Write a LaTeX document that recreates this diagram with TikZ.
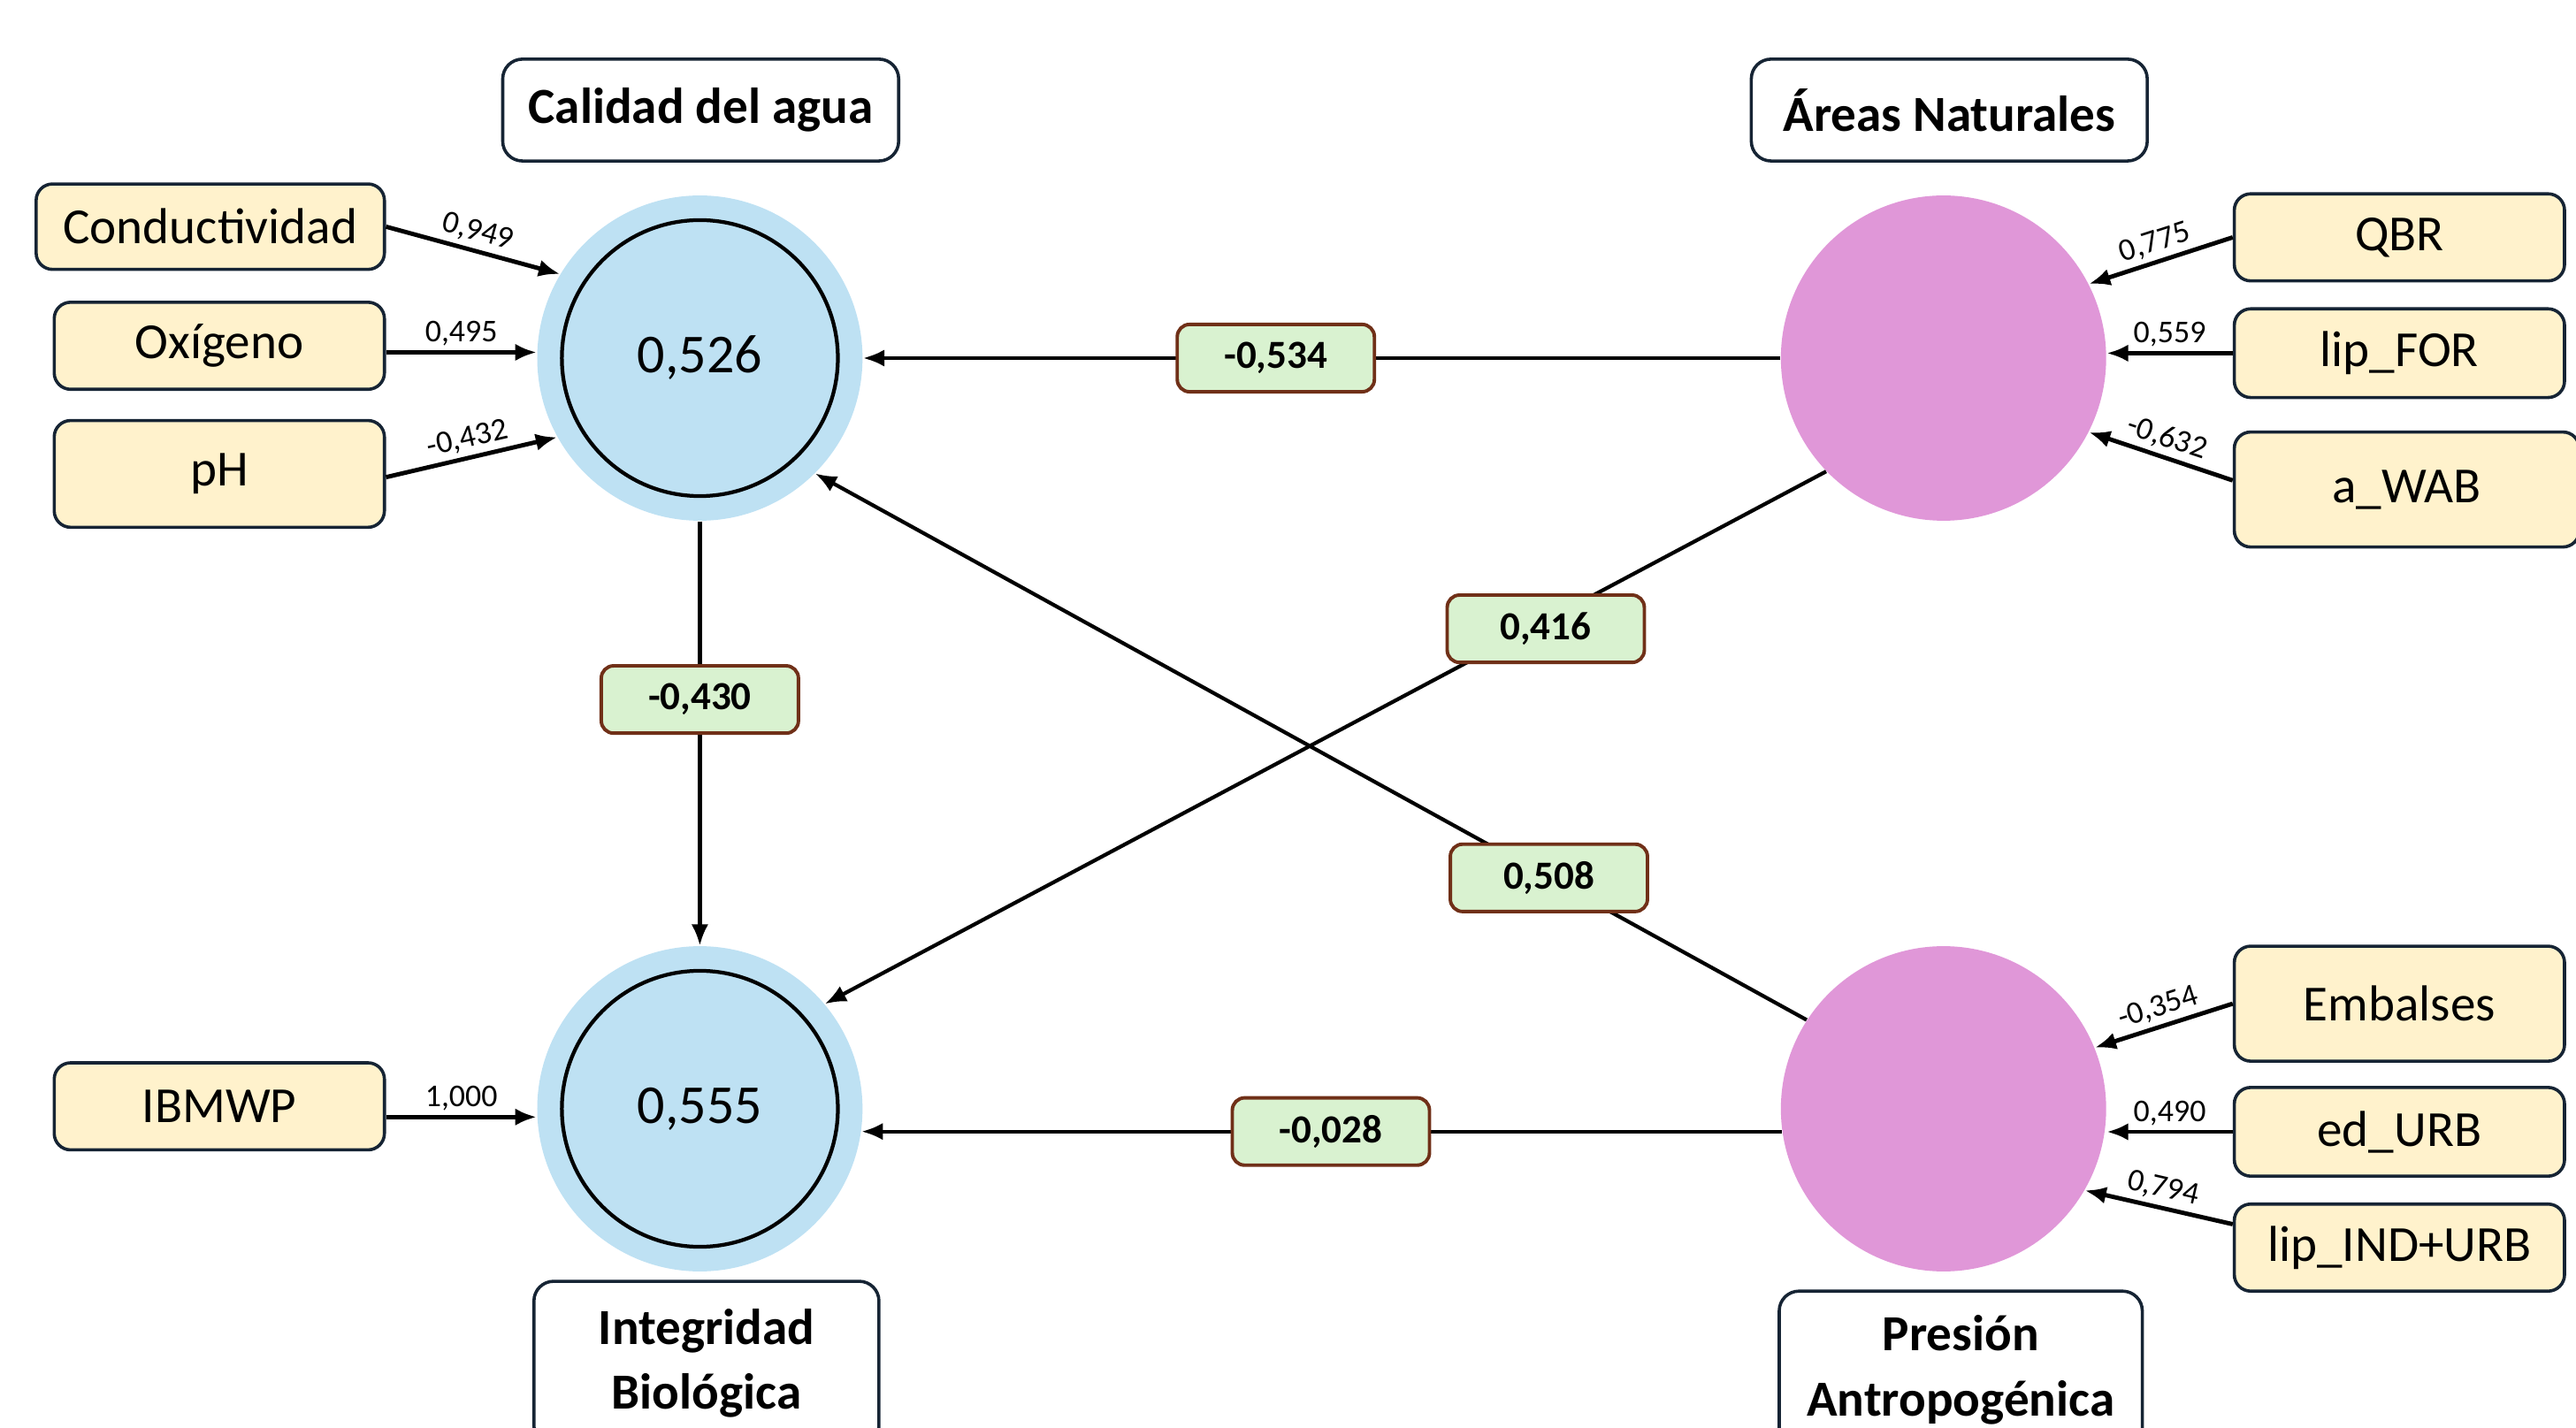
\documentclass[tikz,border=0pt]{standalone}
\usepackage{fontspec}
\setmainfont{Carlito}
\usepackage{xcolor}
\usetikzlibrary{arrows.meta,calc}
\definecolor{azulclaro}{RGB}{190,225,243}
\definecolor{rosa}{RGB}{224,151,216}
\definecolor{crema}{RGB}{255,242,204}
\definecolor{verdeclaro}{RGB}{217,242,208}
\definecolor{marron}{RGB}{112,48,24}
\definecolor{bordeoscuro}{RGB}{22,36,52}
\tikzset{
	indicador/.style={draw=bordeoscuro, fill=crema, rounded corners=2mm, line width=1.1pt,
			minimum width=40.2mm, minimum height=10.6mm, inner sep=0pt,
			font=\fontsize{17.5}{20}\selectfont},
	titulo/.style={draw=bordeoscuro, fill=white, rounded corners=2.4mm, line width=1.1pt,
			inner sep=0pt, align=center, font=\fontsize{17.5}{22.5}\selectfont\bfseries},
	constructo/.style={circle, draw=none, minimum size=39.6mm, inner sep=0pt},
	anillo/.style={circle, draw=black, line width=1.3pt, minimum size=33.6mm, inner sep=0pt,
			font=\fontsize{19}{22}\selectfont},
	coef/.style={draw=marron, fill=verdeclaro, rounded corners=1.5mm, line width=1.2pt,
			minimum width=24mm, minimum height=8.2mm, inner sep=0pt,
			font=\fontsize{13.8}{16}\selectfont\bfseries},
	carga/.style={line width=1.5pt, -{Latex[length=2.6mm,width=2.1mm]}},
	camino/.style={line width=1.3pt, -{Latex[length=2.6mm,width=2.1mm]}},
	peso/.style={above, sloped, inner sep=1.5pt, font=\fontsize{11}{13}\selectfont}
}

\begin{document}
\begin{tikzpicture}[x=0.2mm, y=-0.2mm]
	\useasboundingbox (0,0) rectangle (1568,869);

	% constructos
	\node[constructo, fill=azulclaro] (cal) at (426,218) {};
	\node[anillo] (calin) at (cal) {0,526};
	\node[constructo, fill=azulclaro] (int) at (426,675) {};
	\node[anillo] (intin) at (int) {0,555};
	\node[constructo, fill=rosa] (nat) at (1183,218) {};
	\node[constructo, fill=rosa] (pre) at (1183,675) {};

	% titulos
	\node[titulo, minimum width=48.2mm, minimum height=12.4mm] (tcal) at (426.5,67) {Calidad del agua};
	\node[titulo, minimum width=48.2mm, minimum height=12.4mm] (tnat) at (1186.5,67) {Áreas Naturales};
	\node[titulo, minimum width=42mm, minimum height=20mm] (tint) at (430,830) {Integridad\\Biológica};
	\node[titulo, minimum width=44.2mm, minimum height=19.2mm] (tpre) at (1193.5,834) {Presión\\Antropogénica};

	% indicadores
	\node[indicador, minimum width=42.4mm, minimum height=10.4mm] (cond) at (128,138) {Conductividad};
	\node[indicador] (oxi) at (133.5,210.5) {Oxígeno};
	\node[indicador, minimum height=13mm] (ph) at (133.5,288.5) {pH};
	\node[indicador] (ibm) at (133.5,673.5) {IBMWP};
	\node[indicador] (qbr) at (1460.5,144.5) {QBR};
	\node[indicador, minimum height=10.8mm] (lfor) at (1460.5,215) {lip\_FOR};
	\node[indicador, minimum width=42mm, minimum height=14mm] (wab) at (1465,298) {a\_WAB};
	\node[indicador, minimum height=14mm] (emb) at (1460.5,611) {Embalses};
	\node[indicador, minimum height=10.8mm] (edu) at (1460.5,689) {ed\_URB};
	\node[indicador] (lind) at (1460.5,759.5) {lip\_IND+URB};

	% cargas
	\draw[carga] (cond.east) -- node[peso]{0,949} (cal.149);
	\draw[carga] ([yshift=-0.8mm]oxi.east) -- node[peso]{0,495} ([yshift=-0.8mm]oxi.east -| cal.west);
	\draw[carga] ([yshift=-0.4mm]ph.east) -- node[peso]{-0,432} (cal.209);
	\draw[carga] ([yshift=-1.3mm]ibm.east) -- node[peso]{1,000} ([yshift=-1.3mm]ibm.east -| int.west);
	\draw[carga] (qbr.west) -- node[peso]{0,775} (nat.27);
	\draw[carga] (lfor.west) -- node[peso]{0,559} (lfor.west -| nat.east);
	\draw[carga] (wab.177) -- node[peso]{-0,632} (nat.333);
	\draw[carga] (emb.west) -- node[peso]{-0,354} (pre.22);
	\draw[carga] (edu.west) -- node[peso]{0,490} (edu.west -| pre.east);
	\draw[carga] (lind.172) -- node[peso]{0,794} (pre.330);

	% caminos
	\draw[camino] (nat.west) -- node[coef, pos=0.55]{-0,534} (cal.east);
	\draw[camino] (pre.188) -- node[coef, pos=0.49]{-0,028} (int.352);
	\draw[camino] (cal.south) -- node[coef, pos=0.42]{-0,430} (int.north);
	\draw[camino] (nat.224) -- node[coef, pos=0.28, yshift=-1mm]{0,416} (int.40);
	\draw[camino] (pre.147) -- node[coef, pos=0.26]{0,508} (cal.315);
\end{tikzpicture}
\end{document}
